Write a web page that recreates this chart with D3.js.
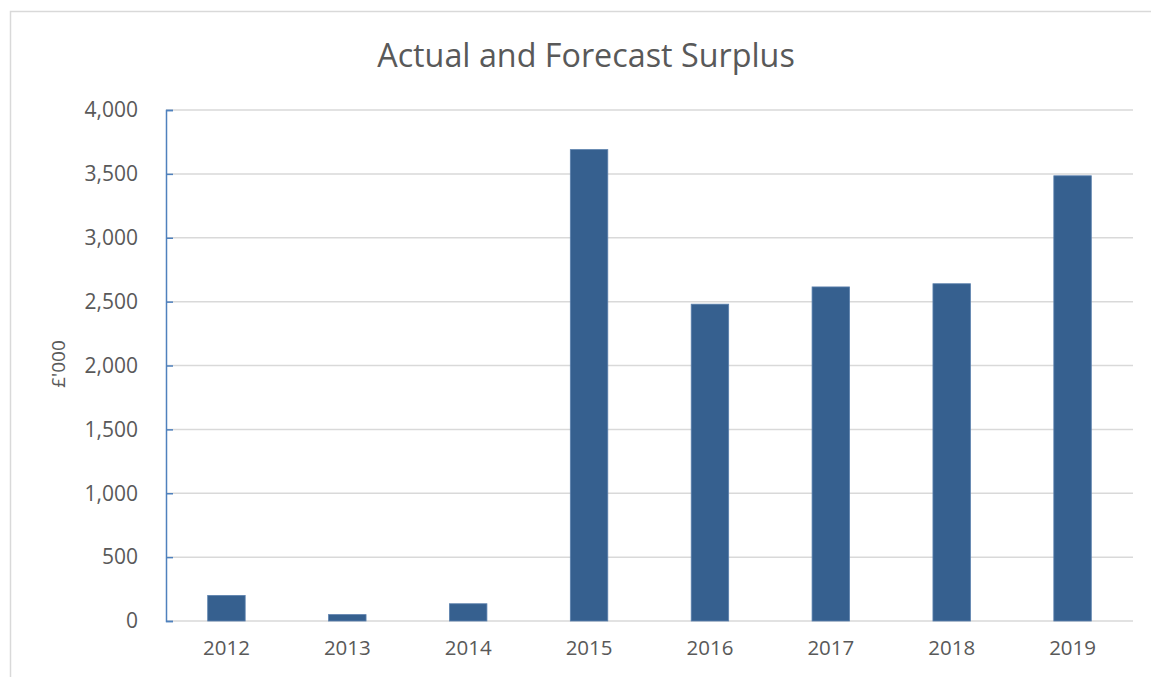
<!DOCTYPE html>
<html><head><meta charset="utf-8">
<script src="https://cdn.jsdelivr.net/npm/d3@7"></script>
<style>body{margin:0;background:#fff}svg{display:block}text{font-family:"Open Sans",Lato,sans-serif}</style>
</head><body><svg id="c" width="1151" height="677"></svg>
<script>
const categories = ["2012","2013","2014","2015","2016","2017","2018","2019"];
const surplus = [200, 50, 135, 3690, 2480, 2615, 2640, 3485];
const yTicks = [0,500,1000,1500,2000,2500,3000,3500,4000];
const titleText = "Actual and Forecast Surplus";
const yLabel = "£'000";

const svg = d3.select("#c");
const m = {left:166, right:1133, top:110, bottom:621};
const FONT = "'Open Sans',Lato,sans-serif";

svg.append("rect").attr("x",10.5).attr("y",11.5).attr("width",1150).attr("height",680)
  .attr("fill","#fff").attr("stroke","#d9d9d9").attr("stroke-width",1.5);

const x = d3.scaleBand().domain(categories).range([m.left, m.right]).paddingInner(0.69).paddingOuter(0.345);
const y = d3.scaleLinear().domain([0,4000]).range([m.bottom, m.top]);

svg.append("g").selectAll("line").data(yTicks).join("line")
  .attr("x1",m.left).attr("x2",m.right)
  .attr("y1",d=>y(d)).attr("y2",d=>y(d))
  .attr("stroke","#d9d9d9").attr("stroke-width",1.5);

svg.append("g").selectAll("rect").data(surplus).join("rect")
  .attr("x",(d,i)=>x(categories[i]))
  .attr("width",x.bandwidth())
  .attr("y",d=>y(d))
  .attr("height",d=>y(0)-y(d))
  .attr("fill","#36608f").attr("stroke","#5b80ad").attr("stroke-width",0.8);

const ya = svg.append("g").attr("transform",`translate(${m.left},0)`)
  .call(d3.axisRight(y).tickValues(yTicks).tickSize(7).tickFormat(""));
ya.select(".domain").attr("stroke","#4f81bd").attr("stroke-width",1.5);
ya.selectAll(".tick line").attr("stroke","#4f81bd").attr("stroke-width",1.5);

svg.append("g").selectAll("text").data(yTicks).join("text")
  .attr("x",138).attr("y",d=>y(d)).attr("dy","0.35em")
  .attr("text-anchor","end").attr("fill","#595959").attr("font-size",21)
  .text(d3.format(","));

const xa = svg.append("g").attr("transform",`translate(0,${m.bottom})`)
  .call(d3.axisBottom(x).tickSize(0).tickPadding(19));
xa.select(".domain").remove();
xa.selectAll("text").attr("fill","#595959").attr("font-size",20.5).attr("font-family",FONT);

svg.append("text").attr("x",586).attr("y",67).attr("text-anchor","middle")
  .attr("fill","#595959").attr("font-size",32.3).text(titleText);

svg.append("text").attr("transform","translate(65,364) rotate(-90)")
  .attr("text-anchor","middle").attr("fill","#595959").attr("font-size",19).text(yLabel);
</script></body></html>
